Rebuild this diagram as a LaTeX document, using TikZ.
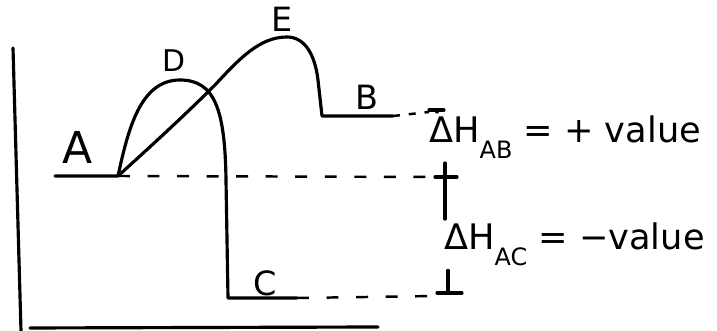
\documentclass[tikz,border=0pt]{standalone}
\usepackage{fontspec}
\newfontfamily\handfont{DejaVu Sans}
\usetikzlibrary{calc}
\newcommand{\hsub}[1]{\raisebox{-4.5pt}{\fontsize{6.8}{8}\selectfont #1}}

\begin{document}
\begin{tikzpicture}[
    x=0.01cm, y=-0.01cm,
    curve/.style={line width=0.9pt, line join=round, line cap=round},
    guide/.style={line width=0.7pt, dash pattern=on 3.4pt off 5pt},
    lbl/.style={font=\fontsize{#1}{#1}\handfont, inner sep=1pt},
    lbl/.default=9,
    dlbl/.style={lbl=10, anchor=base west}
  ]
  \useasboundingbox (0,0) rectangle (717,331);

  % Axes
  \coordinate (yTop) at (13,48);
  \coordinate (yBot) at (21,331);
  \coordinate (xLeft) at (30,328);
  \coordinate (xRight) at (378,327);
  \draw[curve] (yTop) -- (yBot);
  \draw[curve] (xLeft) -- (xRight);

  % Levels
  \coordinate (Aleft) at (55,176);
  \coordinate (Aend) at (118,176);
  \coordinate (Cstart) at (228,298);
  \coordinate (Cend) at (297,298);
  \coordinate (Bstart) at (322,116);
  \coordinate (Bend) at (393,116);

  % Measure ticks
  \coordinate (tickTop) at (437,110);
  \coordinate (tickMid) at (445,177);
  \coordinate (tickBot) at (448,293);

  % Path through D
  \draw[curve] (Aleft) -- (Aend)
    .. controls (128,130) and (140,80) .. (180,80)
    .. controls (215,80) and (225,110) .. (226,180)
    -- (Cstart) -- (Cend);

  % Path through E
  \draw[curve] (Aend)
    .. controls (160,138) and (190,110) .. (215,85)
    .. controls (240,58) and (260,37) .. (287,37)
    .. controls (305,37) and (315,55) .. (318,80)
    -- (Bstart) -- (Bend);

  % Dashed guides
  \draw[guide] (Aend) -- ($(tickMid)+(-11,0)$);
  \draw[guide] (Cend) -- ($(tickBot)+(-12,3)$);
  \draw[line width=0.7pt, dash pattern=on 2pt off 2.5pt]
    (Bend) -- ($(tickTop)+(-8,2)$);

  % Labels
  \node[lbl=12.5] (lA) at (78,147) {A};
  \node[lbl=8.5] (lD) at (174,61) {D};
  \node[lbl=9.5] (lE) at (282,19) {E};
  \node[lbl=9.5] (lB) at (367,97) {B};
  \node[lbl=9.5] (lC) at (265,283) {C};

  \node[dlbl] (lblAB) at (425,143) {ΔH\hsub{AB} = + value};
  \node[dlbl] (lblAC) at (440,250) {ΔH\hsub{AC} = −value};

  % Measure line
  \draw[curve] (tickTop) +(-8,0) -- +(7,0);
  \draw[curve] (tickTop) -- (tickTop |- lblAB.north);
  \draw[curve] (tickMid) +(-10,0) -- +(12,0);
  \draw[curve] (tickMid |- lblAB.south) -- (tickMid |- lblAC.north);
  \draw[curve] (tickBot) +(-11,0) -- +(14,0);
  \draw[curve] (tickBot |- lblAC.south) -- (tickBot);
\end{tikzpicture}
\end{document}
